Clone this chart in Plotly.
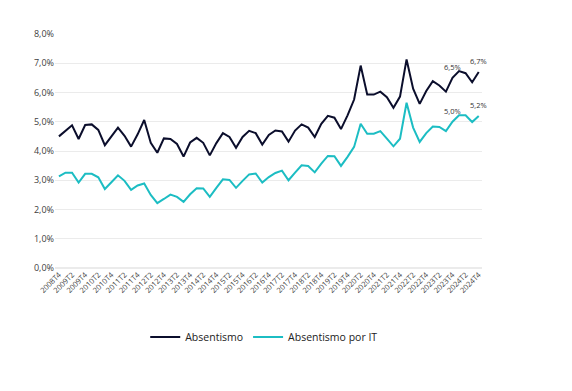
import plotly.graph_objects as go

quarters = ["2008T4"] + [f"{y}T{q}" for y in range(2009, 2025) for q in range(1, 5)]

absentismo = [4.5, 4.68, 4.88, 4.41, 4.89, 4.91, 4.72, 4.2, 4.49, 4.8,
              4.52, 4.15, 4.57, 5.06, 4.28, 3.94, 4.43, 4.41, 4.24, 3.81,
              4.29, 4.45, 4.28, 3.85, 4.27, 4.61, 4.48, 4.11, 4.48, 4.69,
              4.61, 4.22, 4.55, 4.7, 4.67, 4.32, 4.7, 4.91, 4.8, 4.48,
              4.93, 5.2, 5.14, 4.75, 5.22, 5.76, 6.92, 5.93, 5.93, 6.03,
              5.84, 5.48, 5.86, 7.13, 6.13, 5.61, 6.05, 6.39, 6.24, 6.03,
              6.5, 6.73, 6.66, 6.35, 6.7]

absentismo_it = [3.13, 3.26, 3.26, 2.92, 3.22, 3.22, 3.1, 2.7, 2.93, 3.17,
                 2.98, 2.67, 2.82, 2.89, 2.5, 2.22, 2.36, 2.51, 2.43, 2.26,
                 2.52, 2.73, 2.72, 2.43, 2.74, 3.03, 3.01, 2.74, 2.98, 3.2,
                 3.23, 2.92, 3.11, 3.25, 3.33, 3.0, 3.26, 3.51, 3.49, 3.27,
                 3.57, 3.83, 3.82, 3.49, 3.8, 4.14, 4.93, 4.59, 4.59, 4.68,
                 4.42, 4.16, 4.42, 5.65, 4.8, 4.31, 4.61, 4.84, 4.82, 4.68,
                 5.0, 5.22, 5.22, 4.99, 5.2]

labeled_quarters = ["2023T4", "2024T4"]
tick_labels = quarters[::2]

def fmt(v):
    return f"{v:.1f}".replace(".", ",") + "%"

FONT = "Open Sans"
fig = go.Figure()
fig.add_trace(go.Scatter(x=quarters, y=absentismo, name="Absentismo",
                         mode="lines", line=dict(color="#0b0e2c", width=2)))
fig.add_trace(go.Scatter(x=quarters, y=absentismo_it, name="Absentismo por IT",
                         mode="lines", line=dict(color="#1cbdc3", width=2)))

for series in (absentismo, absentismo_it):
    for q in labeled_quarters:
        i = quarters.index(q)
        fig.add_annotation(x=q, y=series[i], text=fmt(series[i]), showarrow=False,
                           yshift=11, font=dict(size=7.5, color="#333333", family=FONT))

# page body has an 8px default margin, so the figure is 8px smaller
fig.update_layout(
    width=564, height=383,
    margin=dict(l=47, r=90, t=26, b=123, autoexpand=False),
    paper_bgcolor="white", plot_bgcolor="white",
    separators=",.",
    font=dict(family=FONT, color="#404040"),
    showlegend=True,
    legend=dict(orientation="h", x=0.49, xanchor="center", y=-0.295, yanchor="middle",
                font=dict(size=10.5, color="#222222", family=FONT),
                traceorder="normal"),
    xaxis=dict(type="category", range=[-0.6, 64.5], tickmode="array",
               tickvals=tick_labels, ticktext=tick_labels, tickangle=-45,
               tickfont=dict(size=7.5, color="#404040"), showgrid=False,
               showline=False, ticks="", automargin=False),
    yaxis=dict(range=[0, 8], dtick=1, tickformat=".1f", ticksuffix="%",
               tickfont=dict(size=9, color="#404040"), gridcolor="#ebebeb",
               gridwidth=1, zeroline=True, zerolinecolor="#ebebeb",
               showline=False, ticks="", automargin=False),
)

fig.write_html("out.html")
